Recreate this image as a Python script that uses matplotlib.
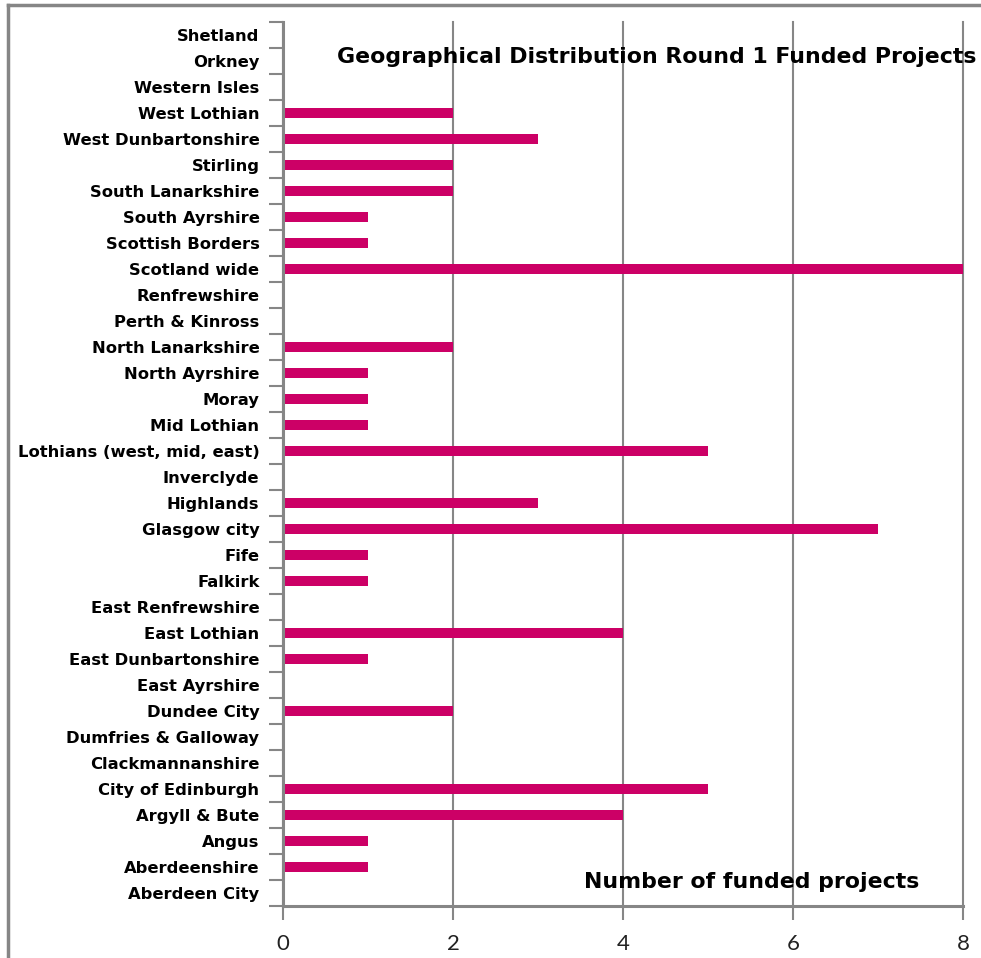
import matplotlib.pyplot as plt
from matplotlib.ticker import FixedLocator
from matplotlib.lines import Line2D

# areas, bottom to top as in the chart
areas = ['Aberdeen City', 'Aberdeenshire', 'Angus', 'Argyll & Bute',
         'City of Edinburgh', 'Clackmannanshire', 'Dumfries & Galloway',
         'Dundee City', 'East Ayrshire', 'East Dunbartonshire', 'East Lothian',
         'East Renfrewshire', 'Falkirk', 'Fife', 'Glasgow city', 'Highlands',
         'Inverclyde', 'Lothians (west, mid, east)', 'Mid Lothian', 'Moray',
         'North Ayrshire', 'North Lanarkshire', 'Perth & Kinross',
         'Renfrewshire', 'Scotland wide', 'Scottish Borders', 'South Ayrshire',
         'South Lanarkshire', 'Stirling', 'West Dunbartonshire', 'West Lothian',
         'Western Isles', 'Orkney', 'Shetland']
projects = [0, 1, 1, 4, 5, 0, 0, 2, 0, 1, 4, 0, 1, 1, 7, 3, 0, 5, 1, 1,
            1, 2, 0, 0, 8, 1, 1, 2, 2, 3, 2, 0, 0, 0]
xticks = [0, 2, 4, 6, 8]

bar_color = '#CC0066'
grey = '#868686'

fig = plt.figure(figsize=(9.81, 9.58), dpi=100)
ax = fig.add_axes([283/981, 1 - 906/958, (963 - 283)/981, (906 - 22)/958])

pos = list(range(len(areas)))
ax.barh(pos, projects, height=0.42, color=bar_color, zorder=3)

ax.set_xlim(0, 8)
ax.set_ylim(-0.5, len(areas) - 0.5)
ax.set_xticks(xticks)
ax.set_xticklabels([str(t) for t in xticks], fontsize=16, family='Lato', color='#222222')
ax.tick_params(axis='x', length=10, width=1.5, color=grey, pad=10)

ax.set_yticks(pos)
ax.set_yticklabels(areas, fontsize=11.8, family='DejaVu Sans', fontweight='bold')
ax.tick_params(axis='y', which='major', length=0, pad=17)
ax.yaxis.set_minor_locator(FixedLocator([p - 0.5 for p in pos] + [len(areas) - 0.5]))
ax.tick_params(axis='y', which='minor', length=10, width=1.5, color=grey)

ax.grid(axis='x', color=grey, linewidth=1.5, zorder=0)
for gl in ax.get_xgridlines():
    gl.set_clip_on(False)
for side in ['top', 'right']:
    ax.spines[side].set_visible(False)
for side in ['left', 'bottom']:
    ax.spines[side].set_color(grey)
    ax.spines[side].set_linewidth(2.2)
    ax.spines[side].set_zorder(4)

ax.text(1.02, 0.960, 'Geographical Distribution Round 1 Funded Projects',
        transform=ax.transAxes, ha='right', va='center', fontsize=15.8,
        family='DejaVu Sans', fontweight='bold', zorder=5)
ax.text(0.935, 0.027, 'Number of funded projects', transform=ax.transAxes,
        ha='right', va='center', fontsize=15.8, family='DejaVu Sans',
        fontweight='bold', zorder=5)

# outer chart frame (top and left edges visible)
fig.add_artist(Line2D([8/981, 1], [1 - 5/958, 1 - 5/958], color=grey, linewidth=2.5))
fig.add_artist(Line2D([8/981, 8/981], [0, 1 - 5/958], color=grey, linewidth=2.5))

fig.savefig('out.png', dpi=100)
